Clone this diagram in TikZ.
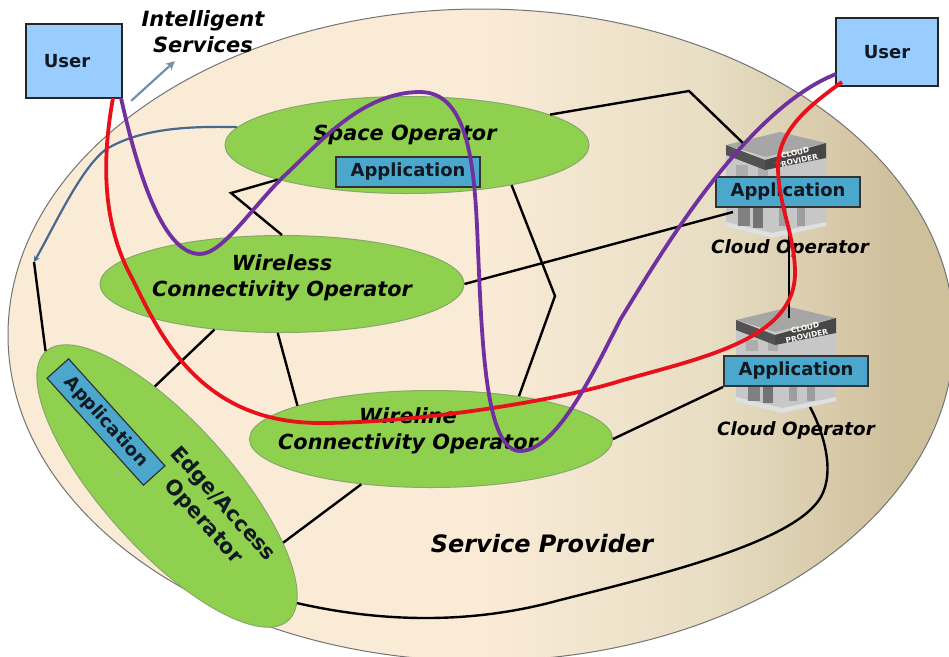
\documentclass[tikz,border=0pt]{standalone}
\usepackage{fontspec}
\setmainfont{DejaVu Sans}
\usetikzlibrary{shapes.geometric,arrows.meta}
\definecolor{opgreen}{HTML}{8FD14F}
\definecolor{opedge}{HTML}{86A868}
\definecolor{appblue}{HTML}{4BA8CC}
\definecolor{userblue}{HTML}{99CCFF}
\definecolor{pathred}{HTML}{E8101A}
\definecolor{pathpurple}{HTML}{7030A0}
\definecolor{steel}{HTML}{47688F}
\definecolor{inktext}{HTML}{101820}
\definecolor{provA}{HTML}{FAEBD7}
\definecolor{provB}{HTML}{E8DEC4}
\definecolor{provC}{HTML}{CFC09C}
\pgfdeclarehorizontalshading{provider}{100bp}{
  color(0bp)=(provA);
  color(25bp)=(provA);
  color(50bp)=(provA);
  color(62bp)=(provB);
  color(72bp)=(provC);
  color(100bp)=(provC)}
\tikzset{
  operator/.style={ellipse,draw=opedge,line width=1pt,fill=opgreen,inner sep=0pt},
  appbox/.style={draw=black!80,line width=1.2pt,fill=appblue,inner sep=0pt,minimum width=144pt,minimum height=30pt,text=inktext,font=\bfseries\fontsize{18}{20}\selectfont},
  userbox/.style={draw=black!85,line width=2pt,fill=userblue,inner sep=0pt,text=inktext,font=\bfseries\fontsize{18}{20}\selectfont},
  oplabel/.style={align=center,text=black,font=\bfseries\itshape\fontsize{20.8}{26}\selectfont},
  cloudlabel/.style={text=black,font=\bfseries\itshape\fontsize{18.3}{20}\selectfont},
  link/.style={draw=black,line width=2.4pt},
  bluelink/.style={draw=steel,line width=2.2pt},
  redpath/.style={draw=pathred,line width=3.8pt},
  purplepath/.style={draw=pathpurple,line width=3.8pt}
}
\newcommand{\cloudbldg}[2]{%
  \begin{scope}[shift={(#1,#2)}]
    \fill[black!22] (726,155)--(726,227)--(772,238)--(826,226)--(826,155)--cycle;
    \fill[black!12] (726,222)--(772,233)--(826,222)--(826,226)--(772,238)--(726,227)--cycle;
    \fill[black!50] (738,208) rectangle (750,226);
    \fill[black!55] (753,208) rectangle (763,228);
    \fill[black!38] (779,208) rectangle (787,226);
    \fill[black!38] (797,208) rectangle (805,226);
    \fill[black!32] (736,165) rectangle (748,176);
    \fill[black!32] (758,165) rectangle (768,176);
    \fill[black!35] (726,145)--(780,132)--(826,143)--(765,157)--cycle;
    \fill[black!68] (726,145)--(765,160)--(765,170)--(726,155)--cycle;
    \fill[black!72] (765,160)--(826,143)--(826,158)--(765,170)--cycle;
    \node[rotate=13,text=white,align=center,inner sep=0pt,font=\bfseries\fontsize{7.5}{8}\selectfont] at (796,157) {CLOUD\\PROVIDER};
  \end{scope}}
\begin{document}
\begin{tikzpicture}[x=1pt,y=-1pt]
\useasboundingbox (0,0) rectangle (949,656);
\clip (0,0) rectangle (949,656);
% provider
\node[ellipse,draw=black!55,line width=1pt,shading=provider,shading angle=0,minimum width=946pt,minimum height=652pt,inner sep=0pt] (provider) at (481,335) {};
\node[text=black,font=\bfseries\itshape\fontsize{24}{28}\selectfont] (providerlabel) at (542,544) {Service Provider};
% cloud buildings
\cloudbldg{0}{0}
\cloudbldg{10}{175}
\coordinate (cloudAtop) at (745,145);
\coordinate (cloudAside) at (733,212);
\coordinate (cloudAbase) at (789,232);
\coordinate (cloudBtop) at (789,318);
\coordinate (cloudBside) at (723,387);
\coordinate (cloudBbase) at (810,407);
% operators
\node[operator,minimum width=364pt,minimum height=97pt] (space) at (407,145) {};
\node[operator,minimum width=364pt,minimum height=97pt] (wireless) at (282,284) {};
\node[operator,minimum width=363pt,minimum height=97pt] (wireline) at (431,439) {};
\node[operator,rotate=-48,minimum width=362pt,minimum height=128pt] (edge) at (167,486) {};
% bends
\coordinate (bendA) at (689,91);
\coordinate (bendB) at (231,193);
\coordinate (bendC) at (555,296);
\coordinate (bendD) at (34,262);
% links
\draw[link] (space.12) -- (bendA) -- (cloudAtop);
\draw[link] (space.195) -- (bendB) -- (wireless.north);
\draw[link] (space.-21) -- (bendC) -- (wireline.26);
\draw[link] (wireless.0) -- (cloudAside);
\draw[link] (wireless.214) -- (edge.145);
\draw[link] (wireless.265) -- (wireline.166);
\draw[link] (wireline.0) -- (cloudBside);
\draw[link] (wireline.213) -- (edge.22);
\draw[link] (edge.west) -- (bendD);
\draw[link] (cloudAbase) -- (cloudBtop);
\draw[link] (cloudBbase) .. controls (825,435) and (838,480) .. (815,505)
   .. controls (780,545) and (660,575) .. (560,600)
   .. controls (470,625) and (380,622) .. (edge.6);
\draw[bluelink,-{Stealth[length=6pt,width=6pt]}] (space.174) .. controls (190,126) and (140,128) .. (105,150) .. controls (80,170) and (55,225) .. (bendD);
% application boxes
\node[appbox] (appspace) at (408,172) {Application};
\node[appbox] (appcloudA) at (788,192) {Application};
\node[appbox] (appcloudB) at (796,371) {Application};
\node[appbox,rotate=-48,minimum width=144pt,minimum height=29pt] (appedge) at (106,422) {Application};
% labels
\node[oplabel] (spacelabel) at (405,135) {Space Operator};
\node[oplabel] (wirelesslabel) at (282,278) {Wireless\\Connectivity Operator};
\node[oplabel] (wirelinelabel) at (408,431) {Wireline\\Connectivity Operator};
\node[rotate=-48,align=center,text=inktext,font=\bfseries\fontsize{20.8}{26}\selectfont] (edgelabel) at (213,513) {Edge/Access\\Operator};
\node[cloudlabel] (cloudAlabel) at (790,248) {Cloud Operator};
\node[cloudlabel] (cloudBlabel) at (796,430) {Cloud Operator};
\node[oplabel,font=\bfseries\itshape\fontsize{21}{26}\selectfont] (services) at (203,32) {Intelligent\\Services};
% users
\node[userbox,minimum width=96pt,minimum height=74pt] (userA) at (74,61) {};
\node[text=inktext,font=\bfseries\fontsize{18}{20}\selectfont] (userAlabel) at (67,61) {User};
\node[userbox,minimum width=102pt,minimum height=68pt] (userB) at (887,52) {User};
\node[inner sep=0pt,minimum size=0pt] (arrowstart) at (131,101) {};
\node[inner sep=0pt,minimum size=0pt] (arrowend) at (175,61) {};
\draw[draw=steel!75!white,line width=2.2pt,-{Stealth[length=9pt,width=9pt]}] (arrowstart) -- (arrowend);
% paths
\coordinate (redA) at (113,98);
\coordinate (redB) at (842,82);
\coordinate (purpleA) at (121,98);
\coordinate (purpleB) at (836,74);
\draw[redpath] (redA) .. controls (100,170) and (105,230) .. (133,280)
  .. controls (160,335) and (200,423) .. (320,423)
  .. controls (420,423) and (560,400) .. (620,381)
  .. controls (700,358) and (795,340) .. (795,273)
  .. controls (795,235) and (778,205) .. (778,167)
  .. controls (778,130) and (810,105) .. (redB);
\draw[purplepath] (purpleA) .. controls (135,160) and (160,254) .. (200,254)
  .. controls (222,254) and (250,210) .. (283,177)
  .. controls (316,147) and (360,92) .. (420,92)
  .. controls (470,92) and (475,170) .. (478,250)
  .. controls (482,340) and (485,451) .. (520,451)
  .. controls (555,451) and (590,380) .. (620,320)
  .. controls (660,255) and (745,110) .. (purpleB);
\end{tikzpicture}
\end{document}
